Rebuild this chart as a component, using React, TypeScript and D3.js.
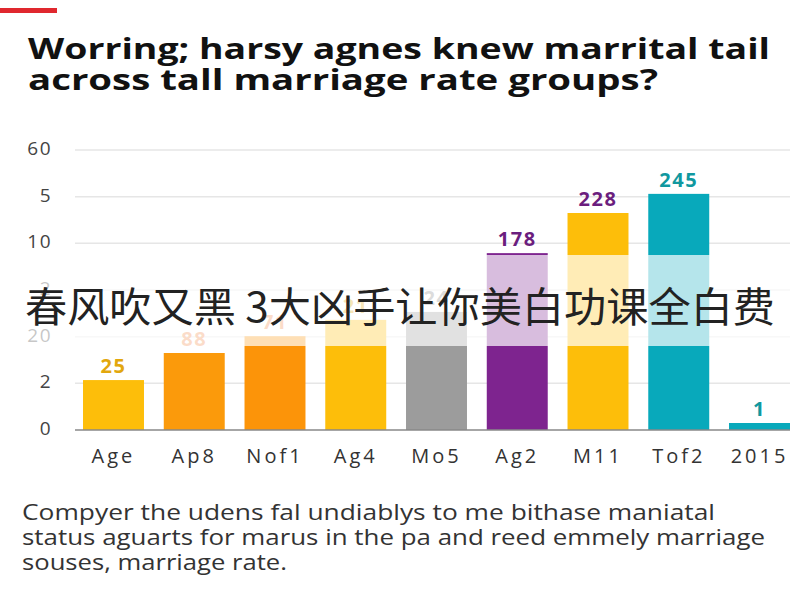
import React from "react";
import * as d3 from "d3";

const categories = ["Age", "Ap8", "Nof1", "Ag4", "Mo5", "Ag2", "M11", "Tof2", "2015"];
const barValues = [1.07, 1.65, 2.01, 2.36, 2.53, 3.79, 4.65, 5.06, 0.15];
const valueLabels = ["25", "88", "71", "21", "24", "178", "228", "245", "1"];
const barColors = ["#FDBE0A", "#FB9A0B", "#FC9409", "#FDBE0A", "#9C9C9C", "#7E248F", "#FDBE0A", "#08A9BB", "#08A9BB"];
const labelColors = ["#E2A70E", "#F08B4A", "#F08B4A", "#E2A70E", "#8A8A8A", "#6B1E7E", "#6B1E7E", "#11989F", "#11989F"];
const tickValues = [0, 1, 2, 3, 4, 5, 6];
const tickLabels = ["0", "2", "20", "2", "10", "5", "60"];
const titleLines = ["Worring; harsy agnes knew marrital tail", "across tall marriage rate groups?"];
const titleWidths = [742, 630];
const footerLines = [
  "Compyer the udens fal undiablys to me bithase maniatal",
  "status aguarts for marus in the pa and reed emmely marriage",
  "souses, marriage rate.",
];
const footerWidths = [693, 743, 265];
const bannerText = "春风吹又黑 3大凶手让你美白功课全白费";

export default function App() {
  const W = 800, H = 600;
  const x = d3.scaleBand<string>().domain(categories).range([73, 800]).paddingInner(0.245).paddingOuter(0.124);
  const y = d3.scaleLinear().domain([0, 6]).range([430, 150]);
  const font = "'Open Sans', 'Noto Sans', sans-serif";
  return (
    <svg width={W} height={H} style={{ position: "absolute", left: 0, top: 0, background: "#fff" }} fontFamily={font}>
      <rect x={0} y={0} width={W} height={H} fill="#fff" />
      <rect x={0} y={8} width={57} height={5} fill="#E0282E" />
      {titleLines.map((t, i) => (
        <text key={i} x={28} y={59 + i * 31} fontSize={29} fontWeight={700} fill="#111" textLength={titleWidths[i]} lengthAdjust="spacingAndGlyphs">{t}</text>
      ))}
      {tickValues.map((v, i) => (
        <g key={i}>
          {v > 0 && <line x1={75} x2={790} y1={y(v)} y2={y(v)} stroke="#E6E6E6" strokeWidth={1.5} />}
          <text x={52} y={y(v)} textAnchor="end" dominantBaseline="middle" fontSize={19} fill="#444" letterSpacing={1.5}>{tickLabels[i]}</text>
        </g>
      ))}
      {categories.map((c, i) => (
        <g key={c}>
          <rect x={x(c)} y={y(barValues[i])} width={x.bandwidth()} height={y(0) - y(barValues[i])} fill={barColors[i]} />
          <text x={(x(c) as number) + x.bandwidth() / 2} y={y(barValues[i]) - 7} textAnchor="middle" fontSize={20} fontWeight={700} fill={labelColors[i]} letterSpacing={1.5}>{valueLabels[i]}</text>
          <text x={(x(c) as number) + x.bandwidth() / 2} y={463} textAnchor="middle" fontSize={20} fill="#333" letterSpacing={3}>{c}</text>
        </g>
      ))}
      <line x1={75} x2={790} y1={y(0)} y2={y(0)} stroke="#888" strokeWidth={1.5} />
      {footerLines.map((t, i) => (
        <text key={i} x={22} y={520 + i * 25} fontSize={21} fill="#333" textLength={footerWidths[i]} lengthAdjust="spacingAndGlyphs">{t}</text>
      ))}
      <rect x={0} y={255} width={W} height={91} fill="#fff" opacity={0.7} />
      <text x={400} y={322} textAnchor="middle" fontSize={41} fill="#222" textLength={750} lengthAdjust="spacingAndGlyphs" fontFamily="'Noto Sans CJK SC', sans-serif">{bannerText}</text>
    </svg>
  );
}
